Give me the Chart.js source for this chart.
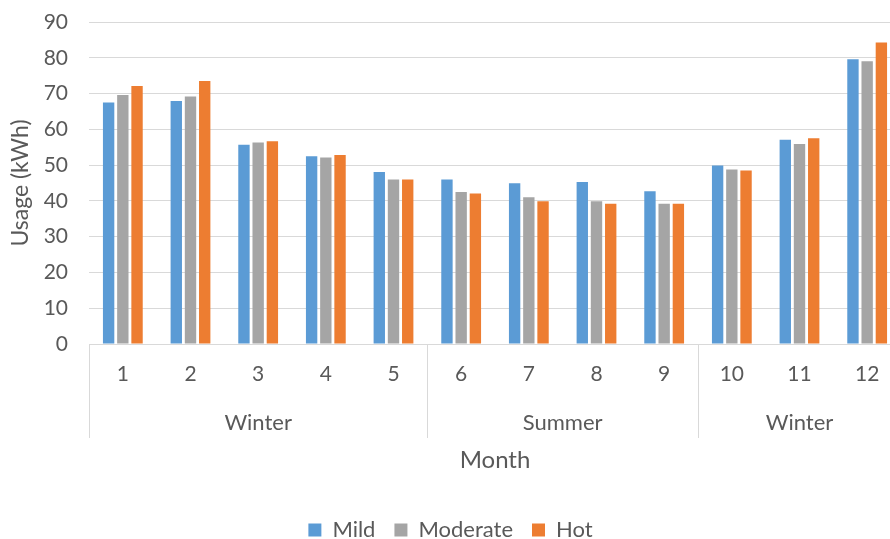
<!DOCTYPE html>
<html>
<head>
<meta charset="utf-8">
<script src="https://cdn.jsdelivr.net/npm/chart.js@4.4.1/dist/chart.umd.min.js"></script>
<style>
  html, body { margin: 0; padding: 0; background: #ffffff; }
  body { width: 890px; height: 539px; overflow: hidden; position: relative; }
  #wrap { position: absolute; left: 0; top: 0; width: 902px; height: 551px; }
</style>
</head>
<body>
<div id="wrap"><canvas id="chart" width="902" height="551"></canvas></div>
<script>
// Monthly electricity usage (kWh) for three climate scenarios
const months = ['1', '2', '3', '4', '5', '6', '7', '8', '9', '10', '11', '12'];
const seasonNames = ['Winter', 'Summer', 'Winter'];
const seasonSpans = [5, 4, 3];            // number of months in each season group
const yTicks = [0, 10, 20, 30, 40, 50, 60, 70, 80, 90];

const mild     = [67.5, 67.9, 55.7, 52.5, 48.1, 46.0, 44.9, 45.3, 42.7, 49.9, 57.1, 79.6];
const moderate = [69.6, 69.2, 56.3, 52.1, 46.0, 42.5, 41.0, 39.9, 39.2, 48.8, 55.9, 79.0];
const hot      = [72.1, 73.5, 56.7, 52.8, 46.0, 42.1, 39.9, 39.2, 39.2, 48.5, 57.5, 84.3];

const FONT = 'Lato, "Open Sans", sans-serif';
const TEXT = '#595959';
const LINE = '#d9d9d9';

// Draws the second level of the category axis: season names and group dividers
const seasonAxis = {
  id: 'seasonAxis',
  afterDraw(chart) {
    const x = chart.scales.x;
    const ctx = chart.ctx;
    const catW = x.width / months.length;
    const top = chart.chartArea.bottom;
    const lineBottom = top + 94;
    ctx.save();
    ctx.strokeStyle = LINE;
    ctx.lineWidth = 1;
    ctx.fillStyle = TEXT;
    ctx.font = '22px ' + FONT;
    ctx.textAlign = 'center';
    ctx.textBaseline = 'middle';
    let start = 0;
    const edges = [];
    seasonSpans.forEach((span, g) => {
      const left = x.getPixelForValue(start) - catW / 2;
      const right = x.getPixelForValue(start + span - 1) + catW / 2;
      edges.push(left, right);
      ctx.fillText(seasonNames[g], (left + right) / 2, top + 79);
      start += span;
    });
    [...new Set(edges.map(e => Math.round(e)))].forEach(px => {
      ctx.beginPath();
      ctx.moveTo(px + 0.5, top);
      ctx.lineTo(px + 0.5, lineBottom);
      ctx.stroke();
    });
    ctx.restore();
  }
};

new Chart(document.getElementById('chart'), {
  type: 'bar',
  data: {
    labels: months,
    datasets: [
      { label: 'Mild', data: mild, backgroundColor: '#5b9bd5' },
      { label: 'Moderate', data: moderate, backgroundColor: '#a5a5a5' },
      { label: 'Hot', data: hot, backgroundColor: '#ed7d31' }
    ]
  },
  options: {
    responsive: false,
    animation: false,
    devicePixelRatio: 1,
    layout: { padding: { top: 22, right: 1, left: 0, bottom: 0 } },
    datasets: { bar: { categoryPercentage: 0.63, barPercentage: 0.8 } },
    scales: {
      x: {
        offset: true,
        grid: { display: false, drawTicks: false },
        border: { display: true, color: LINE, width: 1 },
        ticks: { color: TEXT, font: { family: FONT, size: 21 }, padding: 18, maxRotation: 0 },
        title: { display: true, text: 'Month', color: TEXT, font: { family: FONT, size: 24 }, padding: { top: 0, bottom: 25 } },
        afterFit(scale) { scale.height = 156; }
      },
      y: {
        min: 0,
        max: 90,
        afterBuildTicks(scale) { scale.ticks = yTicks.map(v => ({ value: v })); },
        grid: { color: LINE, lineWidth: 1, drawTicks: false },
        border: { display: false },
        ticks: { color: TEXT, font: { family: FONT, size: 21 }, padding: 21 },
        title: { display: true, text: 'Usage (kWh)', color: TEXT, font: { family: FONT, size: 23 }, padding: { top: 7, bottom: 0 } },
        afterFit(scale) {
          scale.width = 89;
          scale.paddingTop = 0;
          scale.paddingBottom = 0;
        }
      }
    },
    plugins: {
      legend: {
        position: 'bottom',
        labels: {
          color: TEXT,
          font: { family: FONT, size: 22 },
          boxWidth: 13,
          boxHeight: 13,
          padding: 19
        }
      },
      tooltip: { enabled: false }
    }
  },
  plugins: [seasonAxis]
});
</script>
</body>
</html>
